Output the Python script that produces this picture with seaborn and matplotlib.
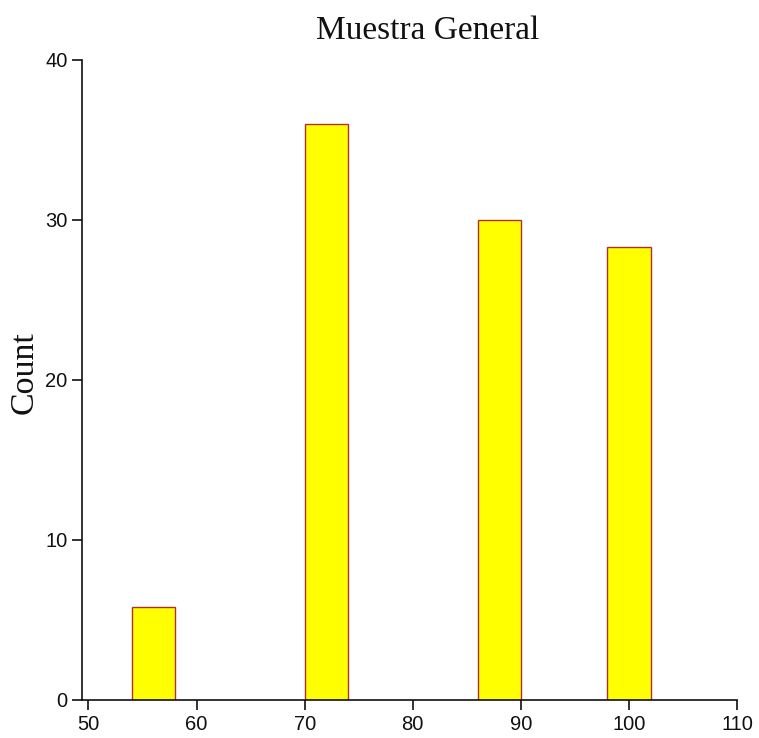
import numpy as np
import pandas as pd
import matplotlib
matplotlib.use("Agg")
import matplotlib.pyplot as plt
import seaborn as sns

# Bin centres and their (weighted) counts
bin_centers = [56, 72, 88, 100]
counts = [5.8, 36.0, 30.0, 28.3]
bin_width = 4
bin_range = (54, 102)

x_ticks = [50, 60, 70, 80, 90, 100, 110]
y_ticks = [0, 10, 20, 30, 40]

sns.set_style("ticks")
plt.rcParams["font.family"] = ["Liberation Sans", "DejaVu Sans"]

df = pd.DataFrame({"score": bin_centers, "weight": counts})

fig = plt.figure(figsize=(7.59, 7.38), dpi=100)
ax = fig.add_axes([0.108, 0.0515, 0.863, 0.8672])

sns.histplot(data=df, x="score", weights="weight",
             binwidth=bin_width, binrange=bin_range,
             color="#ffff00", edgecolor="#b03030", linewidth=1.0,
             alpha=1.0, ax=ax)

# hide empty bins so no stray outline sits on the baseline
for p in ax.patches:
    if p.get_height() == 0:
        p.set_visible(False)

ax.set_xlim(49.4, 110)
ax.set_ylim(0, 40)
ax.set_xticks(x_ticks)
ax.set_yticks(y_ticks)
ax.tick_params(axis="both", labelsize=14.5, length=7, width=1.2,
               direction="out", colors="#111111")
for s in ("top", "right"):
    ax.spines[s].set_visible(False)
for s in ("left", "bottom"):
    ax.spines[s].set_linewidth(1.2)
    ax.spines[s].set_color("#111111")
    ax.spines[s].set_zorder(5)

ax.set_xlabel("")
ax.set_ylabel("Count", family=["Liberation Serif"], fontsize=24.5,
              labelpad=4, color="#111111")
ax.yaxis.label.set_y(0.512)
ax.set_title("Muestra General", family=["Liberation Serif"], fontsize=24,
             x=0.527, pad=15, color="#111111")

fig.savefig("out.png", dpi=100)
